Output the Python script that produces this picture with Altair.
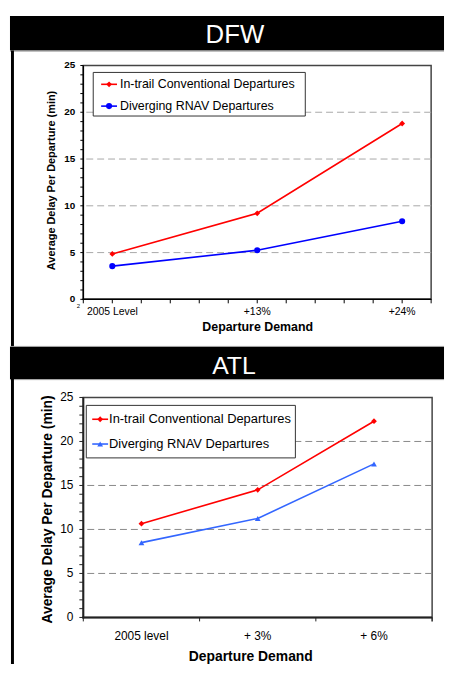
import altair as alt
import pandas as pd

FONT = "Liberation Sans"

series = ["In-trail Conventional Departures", "Diverging RNAV Departures"]

dfw_demand = ["2005 Level", "+13%", "+24%"]
dfw_pos = [1, 6, 11]
dfw_conv = [4.85, 9.2, 18.8]
dfw_rnav = [3.55, 5.25, 8.35]

atl_demand = ["2005 level", "+ 3%", "+ 6%"]
atl_conv = [10.65, 14.5, 22.3]
atl_rnav = [8.5, 11.25, 17.45]

y_ticks = list(range(0, 26))
y_labels = [0, 5, 10, 15, 20, 25]
grid_vals = [5, 10, 15, 20]
dfw_x_ticks = list(range(0, 13))

one = pd.DataFrame({"a": [0]})
grid_df = pd.DataFrame({"g": grid_vals})
ytick_df = pd.DataFrame({"v": y_ticks})
ylab_df = pd.DataFrame({"v": y_labels})

# page positions of the two plot areas
D_L, D_T, D_R, D_B = 82, 62, 433, 298
A_L, A_T, A_R, A_B = 82, 397, 434, 619
RIGHT = 446


class Deco:
    def __init__(self, ox, oy):
        self.ox, self.oy = ox, oy

    def px(self, x):
        return alt.value(x - self.ox)

    def py(self, y):
        return alt.value(y - self.oy)

    def rect(self, x, x2, y, y2, color, stroke=None, sw=1):
        kw = dict(color=color)
        if stroke:
            kw.update(stroke=stroke, strokeWidth=sw)
        return alt.Chart(one).mark_rect(**kw).encode(
            x=self.px(x), x2=self.px(x2), y=self.py(y), y2=self.py(y2))

    def hline(self, x, x2, y, color, w=1):
        return alt.Chart(one).mark_rule(color=color, strokeWidth=w).encode(
            x=self.px(x), x2=self.px(x2), y=self.py(y))

    def vline(self, x, y, y2, color, w=1):
        return alt.Chart(one).mark_rule(color=color, strokeWidth=w).encode(
            x=self.px(x), y=self.py(y), y2=self.py(y2))

    def text(self, s, x, y, size, color="black", weight="normal", align="center",
             baseline="middle", angle=0):
        kw = dict(text=s, font=FONT, fontSize=size, color=color, fontWeight=weight,
                  align=align, baseline=baseline)
        if angle:
            kw["angle"] = angle
        return alt.Chart(one).mark_text(**kw).encode(x=self.px(x), y=self.py(y))

    def point(self, x, y, shape, color, size):
        return alt.Chart(one).mark_point(shape=shape, filled=True, color=color,
                                         size=size, opacity=1).encode(
            x=self.px(x), y=self.py(y))


def series_layers(df, xenc, yenc, colors, shapes, sizes):
    out = []
    for i, s in enumerate(series):
        out.append(alt.Chart(df).transform_filter(alt.datum.series == s).mark_line(
            color=colors[i], strokeWidth=1.6).encode(x=xenc(), y=yenc()))
    for i, s in enumerate(series):
        out.append(alt.Chart(df).transform_filter(alt.datum.series == s).mark_point(
            color=colors[i], shape=shapes[i], filled=True, size=sizes[i], opacity=1).encode(
            x=xenc(), y=yenc()))
    return out


def y_axis_marks(deco, ys, left, top, bottom, tick_len, label_right, size, weight, color, dw):
    return [
        alt.Chart(ytick_df).mark_rule(color=color, strokeWidth=1).encode(
            y=alt.Y("v:Q", scale=ys, axis=None), x=deco.px(left - tick_len), x2=deco.px(left)),
        alt.Chart(ylab_df).mark_text(font=FONT, fontSize=size, fontWeight=weight, color="black",
                                     align="right", baseline="middle").encode(
            y=alt.Y("v:Q", scale=ys, axis=None), x=deco.px(label_right), text=alt.Text("v:Q")),
        deco.vline(left, top, bottom, color, dw),
    ]


# ---------- DFW ----------
d = Deco(D_L, D_T)
dfw_df = pd.DataFrame({
    "series": [series[0]] * 3 + [series[1]] * 3,
    "pos": dfw_pos * 2,
    "demand": dfw_demand * 2,
    "delay": dfw_conv + dfw_rnav,
})
dfw_xs = alt.Scale(domain=[0, 12], nice=False, zero=False)
dfw_ys = alt.Scale(domain=[0, 25], nice=False)


def dfw_x():
    return alt.X("pos:Q", scale=dfw_xs, axis=None)


def dfw_y():
    return alt.Y("delay:Q", scale=dfw_ys, axis=None)


dfw_grid = alt.Chart(grid_df).mark_rule(color="#A8A8A8", strokeWidth=1, strokeDash=[7, 4]).encode(
    y=alt.Y("g:Q", scale=dfw_ys, axis=None))

dfw_xtick_df = pd.DataFrame({"p": dfw_x_ticks})
dfw_xlab_df = pd.DataFrame({"p": dfw_pos, "t": dfw_demand})
dfw_axes = y_axis_marks(d, dfw_ys, D_L, D_T, D_B + 0.75, 3, 74, 10, "bold", "black", 1.5) + [
    alt.Chart(dfw_xtick_df).mark_rule(color="black", strokeWidth=1).encode(
        x=alt.X("p:Q", scale=dfw_xs, axis=None), y=d.py(D_B), y2=d.py(D_B + 4)),
    alt.Chart(dfw_xlab_df).mark_text(font=FONT, fontSize=10.5, color="black", baseline="middle").encode(
        x=alt.X("p:Q", scale=dfw_xs, axis=None), y=d.py(311), text=alt.Text("t:N")),
    d.hline(D_L - 0.75, D_R, D_B, "black", 1.5),
]

dfw_back = [
    d.rect(8, RIGHT, 12, 47, "black"),
    d.hline(8, RIGHT, 47.5, "#999999"),
    d.text("DFW", 235, 39, 26, color="white", baseline="alphabetic"),
    d.rect(9, 12, 47, 346, "black"),
]
dfw_front = [
    d.text("2", 77, 305, 6),
    d.text("Average Delay Per Departure (min)", 50, 178, 11, weight="bold", angle=270),
    d.text("Departure Demand", 258, 326, 12.5, weight="bold"),
    d.rect(92, 306, 69, 113, "white", stroke="#333333", sw=1),
    d.hline(100, 116, 81, "#FF0000", 1.6),
    d.point(108, 81, "diamond", "#FF0000", 34),
    d.text(series[0], 119, 81, 12.5, align="left"),
    d.hline(100, 116, 103, "#0000FF", 1.6),
    d.point(108, 103, "circle", "#0000FF", 38),
    d.text(series[1], 119, 103, 12.5, align="left"),
]

dfw_panel = alt.layer(
    *dfw_back, dfw_grid, *dfw_axes,
    *series_layers(dfw_df, dfw_x, dfw_y, ["#FF0000", "#0000FF"], ["diamond", "circle"], [34, 38]),
    *dfw_front,
).properties(width=D_R - D_L, height=D_B - D_T)

# ---------- ATL ----------
a = Deco(A_L, A_T)
atl_df = pd.DataFrame({
    "series": [series[0]] * 3 + [series[1]] * 3,
    "demand": atl_demand * 2,
    "delay": atl_conv + atl_rnav,
})
atl_xs = alt.Scale(type="band", domain=atl_demand, paddingInner=0, paddingOuter=0)
atl_ys = alt.Scale(domain=[0, 25], nice=False)


def atl_x(band=0.5):
    return alt.X("demand:N", scale=atl_xs, sort=atl_demand, bandPosition=band, axis=None)


def atl_y():
    return alt.Y("delay:Q", scale=atl_ys, axis=None)


atl_grid = alt.Chart(grid_df).mark_rule(color="#888888", strokeWidth=1, strokeDash=[7, 4]).encode(
    y=alt.Y("g:Q", scale=atl_ys, axis=None))

atl_cat_df = pd.DataFrame({"demand": atl_demand})
atl_axes = y_axis_marks(a, atl_ys, A_L, A_T, A_B + 1, 4, 72, 12, "normal", "#222222", 2) + [
    alt.Chart(atl_cat_df).mark_rule(color="#222222", strokeWidth=1).encode(
        x=atl_x(0), y=a.py(A_B), y2=a.py(A_B + 4)),
    alt.Chart(atl_cat_df).mark_text(font=FONT, fontSize=12, color="black", baseline="middle").encode(
        x=atl_x(0.5), y=a.py(638), text=alt.Text("demand:N")),
    a.hline(A_L - 1, A_R, A_B, "#222222", 2),
    a.vline(A_R, A_B, A_B + 4, "#222222", 1.5),
]

atl_back = [
    a.hline(8, RIGHT, 345.5, "#999999"),
    a.rect(8, RIGHT, 346, 378.5, "black"),
    a.hline(8, RIGHT, 379, "#999999"),
    a.text("ATL", 234, 373, 25, color="white", baseline="alphabetic"),
    a.rect(9, 12, 378, 666, "black"),
]
atl_front = [
    a.text("Average Delay Per Departure (min)", 46, 510, 14, weight="bold", angle=270),
    a.text("Departure Demand", 251, 659, 14, weight="bold"),
    a.rect(85, 296, 405, 458, "white", stroke="#333333", sw=1),
    a.hline(91, 107, 419, "#FF0000", 1.6),
    a.point(99, 419, "diamond", "#FF0000", 34),
    a.text(series[0], 108, 419, 13, align="left"),
    a.hline(91, 107, 444, "#3366FF", 1.6),
    a.point(99, 444, "triangle-up", "#3366FF", 34),
    a.text(series[1], 108, 444, 13, align="left"),
]

atl_panel = alt.layer(
    *atl_back, atl_grid, *atl_axes,
    *series_layers(atl_df, atl_x, atl_y, ["#FF0000", "#3366FF"], ["diamond", "triangle-up"], [34, 34]),
    *atl_front,
).properties(width=A_R - A_L, height=A_B - A_T)

chart = alt.vconcat(dfw_panel, atl_panel, spacing=A_T - D_B, bounds="flush").properties(
    background="white",
    padding={"left": 0, "top": 4, "right": 0, "bottom": 0},
).configure_view(stroke="#444444", strokeWidth=1.5)

chart.save("out.html", embed_options={"renderer": "svg", "actions": False})
